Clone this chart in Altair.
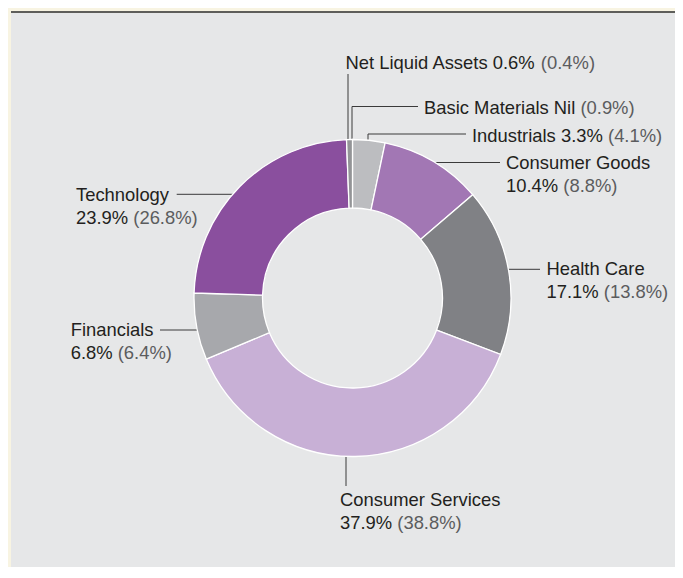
import math
import pandas as pd
import altair as alt

# ---------------- data ----------------
sectors = ["Industrials", "Consumer Goods", "Health Care", "Consumer Services",
           "Financials", "Technology", "Net Liquid Assets", "Basic Materials"]
weights = [3.3, 10.4, 17.1, 37.9, 6.8, 23.9, 0.6, 0.0]
comparatives = [4.1, 8.8, 13.8, 38.8, 6.4, 26.8, 0.4, 0.9]
display_names = ["Industrials", "Consumer Goods", "Health Care", "Consumer Services",
                 "Financials", "Technology", "Net Liquid Assets", "Basic Materials"]

# ---------------- styles / layout ----------------
colors = ["#bcbdc0", "#a277b4", "#808185", "#c8b0d6",
          "#a7a8ac", "#8a4f9e", "#939497", "#939497"]
FONT = "Liberation Sans"
FS = 18.4
DARK = "#231f20"
LIGHT = "#5b5c5e"
LEADER = "#3a3a3a"
CREAM = "#f8f4e2"
PANEL = "#e6e7e8"

VX0, VY0 = 11, 11          # page position of the grey panel
W, H = 664, 556            # panel size (kept inside the page so nothing is rescaled)
CX, CY = 352.5, 298.0      # donut centre (page px)
R_OUT, R_IN = 158.5, 90

# label layout: kind, leader geometry, text x, first-line cap-centre y, one-line?
layout = {
    "Net Liquid Assets": dict(kind="v", lx=348, top=74, hx=None, tx=345.5, ty=62.5, one=True),
    "Basic Materials":   dict(kind="v", lx=352, top=106.5, hx=418, tx=424, ty=107.5, one=True),
    "Industrials":       dict(kind="v", lx=368, top=134, hx=466, tx=472, ty=135, one=True),
    "Consumer Goods":    dict(kind="h", ly=162.5, side=1, hx=500, tx=506, ty=162, one=False),
    "Health Care":       dict(kind="h", ly=269.3, side=1, hx=540, tx=546.5, ty=268.8, one=False),
    "Consumer Services": dict(kind="vd", lx=346, bot=486, tx=340, ty=499.5, one=False),
    "Financials":        dict(kind="h", ly=330, side=-1, hx=160, tx=70.7, ty=329.3, one=False),
    "Technology":        dict(kind="h", ly=194.3, side=-1, hx=176.7, tx=76, ty=194.2, one=False),
}
LINE_GAP = 23

AW = {' ': 278, '%': 889, '(': 333, ')': 333, '.': 278,
      'A': 667, 'B': 667, 'C': 722, 'D': 722, 'F': 611, 'G': 778, 'H': 722, 'I': 278,
      'L': 556, 'M': 833, 'N': 722, 'S': 667, 'T': 611,
      'a': 556, 'b': 556, 'c': 500, 'd': 556, 'e': 556, 'f': 278, 'g': 556, 'h': 556,
      'i': 222, 'j': 222, 'k': 500, 'l': 222, 'm': 833, 'n': 556, 'o': 556, 'p': 556,
      'q': 556, 'r': 333, 's': 500, 't': 278, 'u': 556, 'v': 500, 'w': 722, 'x': 500,
      'y': 500, 'z': 500}


def tw(s):
    return sum(AW.get(c, 556) for c in s) / 1000 * FS


def base(yc):
    return yc + 0.358 * FS


# ---------------- build tables ----------------
arc_df = pd.DataFrame({
    "sector": sectors, "weight": weights, "idx": list(range(len(sectors)))
})
arc_df = arc_df[arc_df["weight"] > 0]

segs, dark_txt, light_txt = [], [], []
RA = R_OUT - 1
for name, w, c in zip(display_names, weights, comparatives):
    L = layout[name]
    wl = "Nil" if w == 0 else f"{w}%"
    par = f"({c}%)"
    # leaders
    if L["kind"] == "v":
        ay = CY - math.sqrt(RA ** 2 - (L["lx"] - CX) ** 2)
        segs.append((L["lx"], ay, L["lx"], L["top"]))
        if L["hx"] is not None:
            segs.append((L["lx"], L["top"], L["hx"], L["top"]))
    elif L["kind"] == "vd":
        ay = CY + math.sqrt(RA ** 2 - (L["lx"] - CX) ** 2)
        segs.append((L["lx"], ay, L["lx"], L["bot"]))
    else:
        ax = CX + L["side"] * math.sqrt(RA ** 2 - (L["ly"] - CY) ** 2)
        segs.append((ax, L["ly"], L["hx"], L["ly"]))
    # texts
    if L["one"]:
        main = f"{name} {wl}"
        dark_txt.append((L["tx"], base(L["ty"]), main))
        light_txt.append((L["tx"] + tw(main + " "), base(L["ty"]), par))
    else:
        dark_txt.append((L["tx"], base(L["ty"]), name))
        y2 = base(L["ty"] + LINE_GAP)
        dark_txt.append((L["tx"], y2, wl))
        light_txt.append((L["tx"] + tw(wl + " "), y2, par))

seg_df = pd.DataFrame(segs, columns=["x", "y", "x2", "y2"])
dark_df = pd.DataFrame(dark_txt, columns=["x", "y", "t"])
light_df = pd.DataFrame(light_txt, columns=["x", "y", "t"])
top_df = pd.DataFrame({"x": [VX0], "x2": [VX0 + W], "y": [VY0 + 1]})

xs = alt.Scale(domain=[VX0, VX0 + W], nice=False, zero=False)
ys = alt.Scale(domain=[VY0 + H, VY0], nice=False, zero=False)

topline = alt.Chart(top_df).mark_rule(color="#5e5e5a", strokeWidth=2).encode(
    x=alt.X("x:Q", scale=xs, axis=None), x2="x2:Q",
    y=alt.Y("y:Q", scale=ys, axis=None))

leaders = alt.Chart(seg_df).mark_rule(color=LEADER, strokeWidth=1).encode(
    x=alt.X("x:Q", scale=xs, axis=None), x2="x2:Q",
    y=alt.Y("y:Q", scale=ys, axis=None), y2="y2:Q")

donut = alt.Chart(arc_df).mark_arc(
    innerRadius=R_IN, outerRadius=R_OUT, stroke="#ffffff", strokeWidth=1.3
).encode(
    theta=alt.Theta("weight:Q", stack=True),
    order=alt.Order("idx:Q"),
    color=alt.Color("sector:N", scale=alt.Scale(domain=sectors, range=colors), legend=None),
    x=alt.value(CX - VX0), y=alt.value(CY - VY0))

dark = alt.Chart(dark_df).mark_text(
    align="left", baseline="alphabetic", font=FONT, fontSize=FS, color=DARK
).encode(x=alt.X("x:Q", scale=xs, axis=None), y=alt.Y("y:Q", scale=ys, axis=None), text="t:N")

light = alt.Chart(light_df).mark_text(
    align="left", baseline="alphabetic", font=FONT, fontSize=FS, color=LIGHT
).encode(x=alt.X("x:Q", scale=xs, axis=None), y=alt.Y("y:Q", scale=ys, axis=None), text="t:N")

chart = alt.layer(topline, leaders, donut, dark, light).properties(
    width=W, height=H,
    autosize=alt.AutoSizeParams(type="none"),
    padding={"left": VX0 - 8, "top": VY0 - 8, "right": 0, "bottom": 0},
    background=CREAM,
).configure_view(fill=PANEL, strokeWidth=0)

chart.save("out.html", embed_options={"renderer": "svg", "actions": False})
